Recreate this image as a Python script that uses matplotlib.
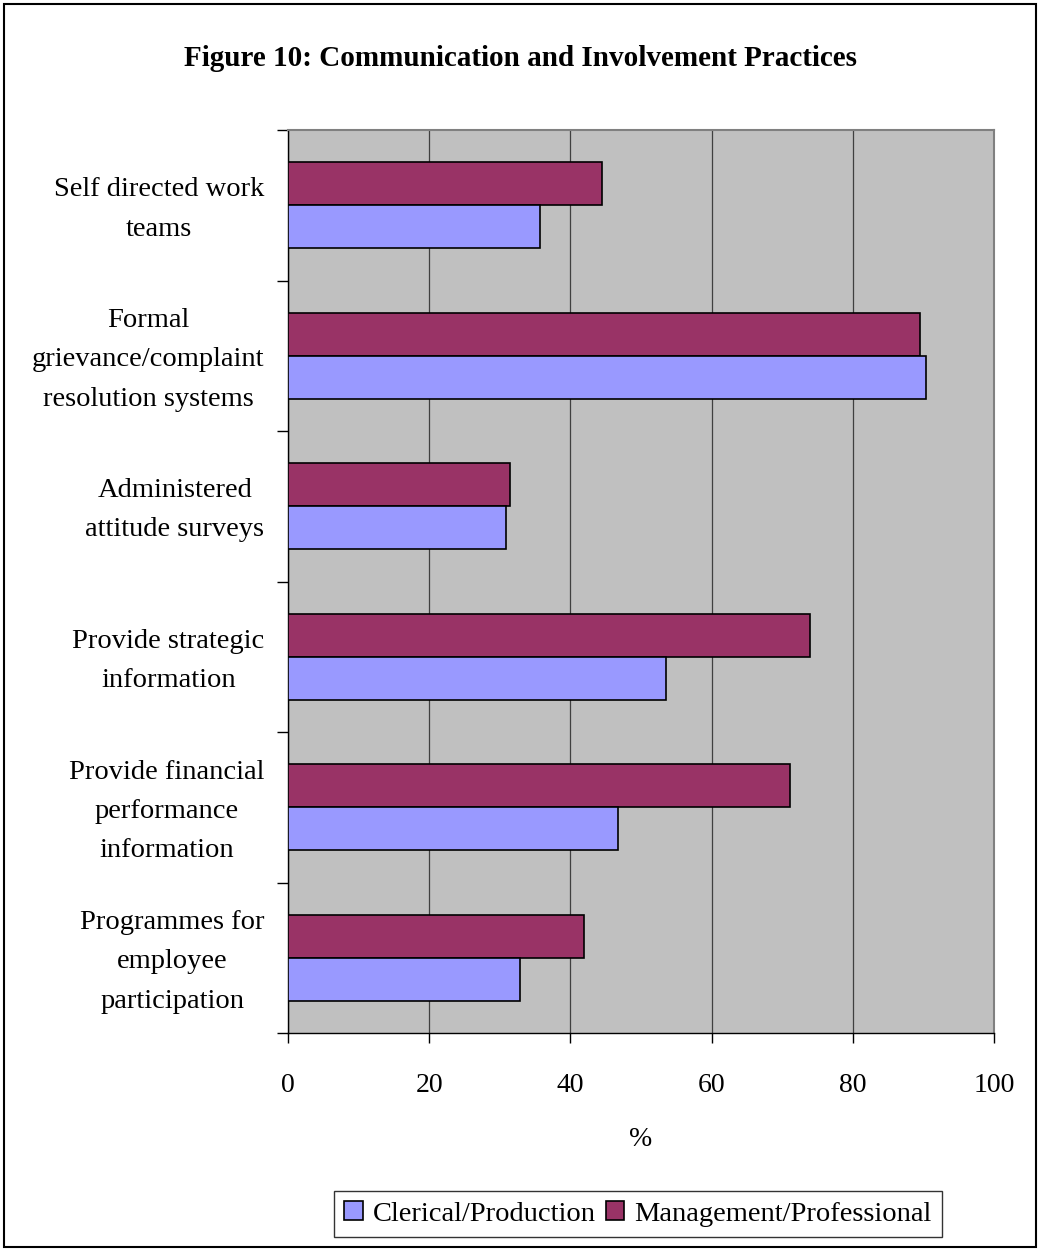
import matplotlib
matplotlib.use("Agg")
import matplotlib.pyplot as plt
import matplotlib.transforms as mtransforms
import numpy as np
from matplotlib.patches import Rectangle

categories = [
    "Self directed work\nteams",
    "Formal\ngrievance/complaint\nresolution systems",
    "Administered\nattitude surveys",
    "Provide strategic\ninformation",
    "Provide financial\nperformance\ninformation",
    "Programmes for\nemployee\nparticipation",
]
clerical = [35.7, 90.4, 30.9, 53.5, 46.7, 32.9]
management = [44.5, 89.5, 31.4, 73.9, 71.1, 41.9]
xticks = [0, 20, 40, 60, 80, 100]

plt.rcParams['font.family'] = ['Liberation Serif', 'DejaVu Serif']

fig = plt.figure(figsize=(10.4, 12.49), dpi=100)
ax = fig.add_axes([288/1040, 1-1033/1249, (994-288)/1040, (1033-130)/1249])
ax.set_facecolor('#C0C0C0')

y = np.arange(len(categories))
h = 0.2857
ax.barh(y - h/2, management, height=h, color='#993366', edgecolor='black',
        linewidth=1.2, label='Management/Professional', zorder=3)
ax.barh(y + h/2, clerical, height=h, color='#9999FF', edgecolor='black',
        linewidth=1.2, label='Clerical/Production', zorder=3)

ax.set_xlim(0, 100)
ax.set_ylim(len(categories) - 0.5, -0.5)
ax.set_xticks(xticks)
ax.set_xticklabels([str(v) for v in xticks], fontsize=20)
ax.xaxis.grid(True, color='#404040', linewidth=0.9, zorder=1)
ax.set_axisbelow(True)

ax.set_yticks(y)
ax.set_yticklabels(categories, fontsize=20.5, linespacing=1.75)
ax.set_yticks(np.arange(len(categories) + 1) - 0.5, minor=True)
ax.tick_params(axis='y', which='major', length=0, pad=17)
ax.tick_params(axis='y', which='minor', length=8, width=1, direction='out')
ax.tick_params(axis='x', which='major', length=7, width=1, direction='out', pad=22)

shift = mtransforms.ScaledTranslation(0, 6/100, fig.dpi_scale_trans)
for lab in ax.get_yticklabels():
    lab.set_multialignment('center')
    lab.set_transform(lab.get_transform() + shift)

for s in ['top', 'right']:
    ax.spines[s].set_color('#808080')
    ax.spines[s].set_linewidth(1.5)
for s in ['left', 'bottom']:
    ax.spines[s].set_color('black')
    ax.spines[s].set_linewidth(1)

ax.set_xlabel('%', fontsize=20, labelpad=21)

fig.text(0.5, 1-58/1249, 'Figure 10: Communication and Involvement Practices',
         ha='center', va='center', fontsize=21, fontweight='bold')

handles, labels = ax.get_legend_handles_labels()
leg = fig.legend(handles[::-1], labels[::-1], loc='center',
                 bbox_to_anchor=(638/1040, 1-1214/1249), ncol=2, fontsize=20.5,
                 frameon=True, fancybox=False, edgecolor='black',
                 handlelength=0.65, handleheight=0.65, handletextpad=0.35,
                 columnspacing=0.35, borderpad=0.35)
leg.get_frame().set_linewidth(1)

fig.patches.append(Rectangle((4/1040, 1-1247/1249), 1032/1040, 1243/1249,
                             transform=fig.transFigure, fill=False,
                             edgecolor='black', linewidth=1.5))

fig.savefig('out.png', dpi=100)
